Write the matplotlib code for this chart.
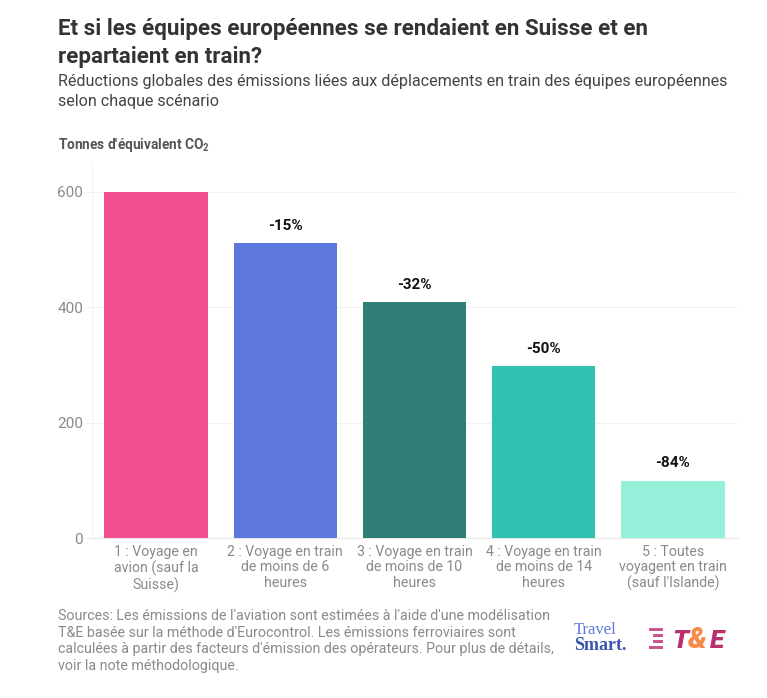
import matplotlib
matplotlib.use("Agg")
import matplotlib.pyplot as plt
from matplotlib.patches import Rectangle

plt.rcParams['font.family'] = ['Roboto', 'DejaVu Sans']

W, H = 767, 698

categories = ["1 : Voyage en\navion (sauf la\nSuisse)",
              "2 : Voyage en train\nde moins de 6\nheures",
              "3 : Voyage en train\nde moins de 10\nheures",
              "4 : Voyage en train\nde moins de 14\nheures",
              "5 : Toutes\nvoyagent en train\n(sauf l'Islande)"]
values = [600, 511, 409, 298, 99]
pct_labels = ["", "-15%", "-32%", "-50%", "-84%"]
colors = ["#F04E8E", "#5C78DC", "#2F7F78", "#2FC2B2", "#96EFD8"]
y_ticks = [0, 200, 400, 600]

title = "Et si les équipes européennes se rendaient en Suisse et en\nrepartaient en train?"
subtitle = ("Réductions globales des émissions liées aux déplacements en train des équipes européennes\n"
            "selon chaque scénario")
y_title = "Tonnes d'équivalent CO$_{\\mathregular{2}}$"
source = ("Sources: Les émissions de l'aviation sont estimées à l'aide d'une modélisation\n"
          "T&E basée sur la méthode d'Eurocontrol. Les émissions ferroviaires sont\n"
          "calculées à partir des facteurs d'émission des opérateurs. Pour plus de détails,\n"
          "voir la note méthodologique.")


def fx(px):
    return px / W


def fy(px):
    return 1 - px / H


fig = plt.figure(figsize=(W / 100, H / 100), dpi=100, facecolor="white")
ax = fig.add_axes([fx(91.5), fy(538), (737.5 - 91.5) / W, (538 - 162) / H])

x = list(range(len(values)))
ax.bar(x, values, width=0.8, color=colors, zorder=3)
for i, v in enumerate(values):
    ax.annotate(pct_labels[i], (i, v), xytext=(0, 7.5), textcoords="offset points",
                ha="center", va="bottom", fontsize=11, fontweight="bold", color="#111111")

ax.set_xlim(-0.5, 4.5)
ax.set_ylim(0, 652)
ax.set_yticks(y_ticks)
ax.set_xticks(x)
ax.set_xticklabels(categories, fontsize=10.2, color="#8a8a8a", linespacing=1.13)
ax.tick_params(axis="y", labelsize=11, labelcolor="#8a8a8a", length=4, width=0.8, color="#f2f2f2", pad=2)
ax.tick_params(axis="x", length=0, pad=5)
ax.grid(True, axis="y", color="#f2f2f2", linewidth=0.8, zorder=0)
for s in ["top", "right"]:
    ax.spines[s].set_visible(False)
ax.spines["left"].set_color("#f2f2f2")
ax.spines["bottom"].set_color("#e8e8e8")

fig.text(fx(58), fy(17.5), title, fontsize=16.1, fontweight="bold", color="#333333",
         va="top", ha="left", linespacing=1.36)
fig.text(fx(58), fy(74), subtitle, fontsize=11.65, color="#444444",
         va="top", ha="left", linespacing=1.38)
fig.text(fx(58), fy(136), y_title, fontsize=9.8, fontweight="bold", color="#555555",
         va="top", ha="left")
fig.text(fx(58), fy(609), source, fontsize=10.3, color="#8a8a8a",
         va="top", ha="left", linespacing=1.24)

# logos, redone as text
fig.text(fx(574), fy(634.5), "Travel", fontsize=12, family="Liberation Serif",
         color="#5C78DC", va="baseline", ha="left")
fig.text(fx(574), fy(650), "Smart.", fontsize=13, family="Liberation Serif", fontweight="bold",
         color="#3A55B0", va="baseline", ha="left")
for top, left in zip([628, 634, 640, 646], [649, 653, 653, 649]):
    fig.add_artist(Rectangle((fx(left), fy(top + 2.5)), (663 - left) / W, 2.5 / H, transform=fig.transFigure,
                             facecolor="#C9568C", edgecolor="none"))
fig.text(fx(672), fy(648), "T", fontsize=19, fontweight="black", style="italic",
         color="#B8306E", va="baseline", ha="left")
fig.text(fx(688), fy(648), "&", fontsize=21, fontweight="black", style="italic",
         color="#F58A4B", va="baseline", ha="left")
fig.text(fx(710), fy(648), "E", fontsize=19, fontweight="black", style="italic",
         color="#B8306E", va="baseline", ha="left")

fig.savefig("out.png", dpi=100)
